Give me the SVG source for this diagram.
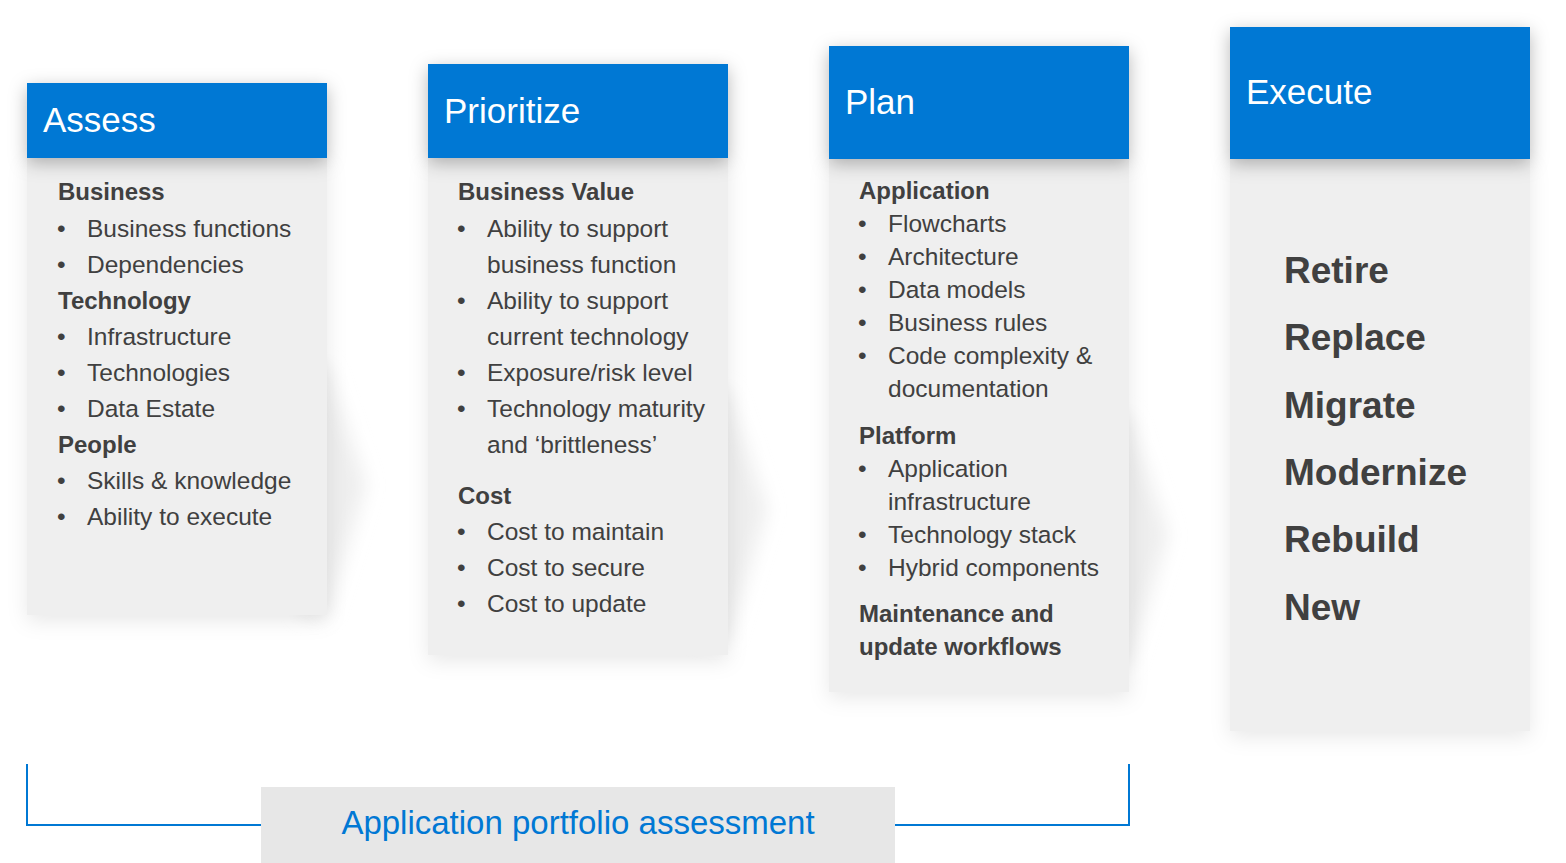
<svg xmlns="http://www.w3.org/2000/svg" width="1566" height="863" viewBox="0 0 1566 863">
  <defs>
    <filter id="hdrShadow" x="-20%" y="-40%" width="140%" height="190%">
      <feDropShadow dx="0" dy="5" stdDeviation="9" flood-color="#000" flood-opacity="0.28"/>
    </filter>
    <filter id="bodyShadow" x="-20%" y="-10%" width="140%" height="125%">
      <feDropShadow dx="0" dy="6" stdDeviation="10" flood-color="#000" flood-opacity="0.09"/>
    </filter>
    <filter id="soft" x="-50%" y="-20%" width="200%" height="140%">
      <feGaussianBlur stdDeviation="9"/>
    </filter>
  </defs>
  <style>
    .hdr { fill: #0078d4; }
    .hdrText { font-family: "Liberation Sans", Arial, sans-serif; font-size: 35px; fill: #ffffff; }
    .body { fill: #efefef; }
    .chev { fill: #eeeeee; }
    .h { font-family: "Liberation Sans", Arial, sans-serif; font-size: 24px; font-weight: bold; fill: #404040; }
    .t { font-family: "Liberation Sans", Arial, sans-serif; font-size: 24.5px; fill: #404040; }
    .big { font-family: "Liberation Sans", Arial, sans-serif; font-size: 37px; font-weight: bold; fill: #404040; }
    .bracket { fill: none; stroke: #0078d4; stroke-width: 2; }
    .label { fill: #e7e7e7; }
    .labelText { font-family: "Liberation Sans", Arial, sans-serif; font-size: 33px; fill: #0078d4; }
  </style>

  <!-- Assess -->
  <g id="assess">
    <polygon class="chev" filter="url(#soft)" points="300,365 327,365 366,485 327,615 300,615"/>
    <rect class="body" filter="url(#bodyShadow)" x="27" y="158" width="300" height="457"/>
    <rect class="hdr" filter="url(#hdrShadow)" x="27" y="83" width="300" height="75"/>
    <text class="hdrText" x="43" y="132">Assess</text>
    <text class="h" x="58" y="200">Business</text>
    <text class="t" x="57" y="237">•</text><text class="t" x="87" y="237">Business functions</text>
    <text class="t" x="57" y="273">•</text><text class="t" x="87" y="273">Dependencies</text>
    <text class="h" x="58" y="309">Technology</text>
    <text class="t" x="57" y="345">•</text><text class="t" x="87" y="345">Infrastructure</text>
    <text class="t" x="57" y="381">•</text><text class="t" x="87" y="381">Technologies</text>
    <text class="t" x="57" y="417">•</text><text class="t" x="87" y="417">Data Estate</text>
    <text class="h" x="58" y="453">People</text>
    <text class="t" x="57" y="489">•</text><text class="t" x="87" y="489">Skills &amp; knowledge</text>
    <text class="t" x="57" y="525">•</text><text class="t" x="87" y="525">Ability to execute</text>
  </g>

  <!-- Prioritize -->
  <g id="prioritize">
    <polygon class="chev" filter="url(#soft)" points="700,390 728,390 767,510 728,640 700,640"/>
    <rect class="body" filter="url(#bodyShadow)" x="428" y="158" width="300" height="497"/>
    <rect class="hdr" filter="url(#hdrShadow)" x="428" y="64" width="300" height="94"/>
    <text class="hdrText" x="444" y="123">Prioritize</text>
    <text class="h" x="458" y="200">Business Value</text>
    <text class="t" x="457" y="237">•</text><text class="t" x="487" y="237">Ability to support</text>
    <text class="t" x="487" y="273">business function</text>
    <text class="t" x="457" y="309">•</text><text class="t" x="487" y="309">Ability to support</text>
    <text class="t" x="487" y="345">current technology</text>
    <text class="t" x="457" y="381">•</text><text class="t" x="487" y="381">Exposure/risk level</text>
    <text class="t" x="457" y="417">•</text><text class="t" x="487" y="417">Technology maturity</text>
    <text class="t" x="487" y="453">and ‘brittleness’</text>
    <text class="h" x="458" y="504">Cost</text>
    <text class="t" x="457" y="540">•</text><text class="t" x="487" y="540">Cost to maintain</text>
    <text class="t" x="457" y="576">•</text><text class="t" x="487" y="576">Cost to secure</text>
    <text class="t" x="457" y="612">•</text><text class="t" x="487" y="612">Cost to update</text>
  </g>

  <!-- Plan -->
  <g id="plan">
    <polygon class="chev" filter="url(#soft)" points="1100,415 1129,415 1168,535 1129,665 1100,665"/>
    <rect class="body" filter="url(#bodyShadow)" x="829" y="159" width="300" height="533"/>
    <rect class="hdr" filter="url(#hdrShadow)" x="829" y="46" width="300" height="113"/>
    <text class="hdrText" x="845" y="114">Plan</text>
    <text class="h" x="859" y="199">Application</text>
    <text class="t" x="858" y="232">•</text><text class="t" x="888" y="232">Flowcharts</text>
    <text class="t" x="858" y="265">•</text><text class="t" x="888" y="265">Architecture</text>
    <text class="t" x="858" y="298">•</text><text class="t" x="888" y="298">Data models</text>
    <text class="t" x="858" y="331">•</text><text class="t" x="888" y="331">Business rules</text>
    <text class="t" x="858" y="364">•</text><text class="t" x="888" y="364">Code complexity &amp;</text>
    <text class="t" x="888" y="397">documentation</text>
    <text class="h" x="859" y="444">Platform</text>
    <text class="t" x="858" y="477">•</text><text class="t" x="888" y="477">Application</text>
    <text class="t" x="888" y="510">infrastructure</text>
    <text class="t" x="858" y="543">•</text><text class="t" x="888" y="543">Technology stack</text>
    <text class="t" x="858" y="576">•</text><text class="t" x="888" y="576">Hybrid components</text>
    <text class="h" x="859" y="622">Maintenance and</text>
    <text class="h" x="859" y="655">update workflows</text>
  </g>

  <!-- Execute -->
  <g id="execute">
    <rect class="body" filter="url(#bodyShadow)" x="1230" y="159" width="300" height="572"/>
    <rect class="hdr" filter="url(#hdrShadow)" x="1230" y="27" width="300" height="132"/>
    <text class="hdrText" x="1246" y="104">Execute</text>
    <text class="big" x="1284" y="283">Retire</text>
    <text class="big" x="1284" y="350">Replace</text>
    <text class="big" x="1284" y="418">Migrate</text>
    <text class="big" x="1284" y="485">Modernize</text>
    <text class="big" x="1284" y="552">Rebuild</text>
    <text class="big" x="1284" y="620">New</text>
  </g>

  <!-- bracket spanning Assess to Plan -->
  <g id="connectors">
    <path class="bracket" d="M27,764 V825 H1129 V764"/>
  </g>

  <g id="portfolio">
    <rect class="label" x="261" y="787" width="634" height="76"/>
    <text class="labelText" x="578" y="834" text-anchor="middle">Application portfolio assessment</text>
  </g>
</svg>
